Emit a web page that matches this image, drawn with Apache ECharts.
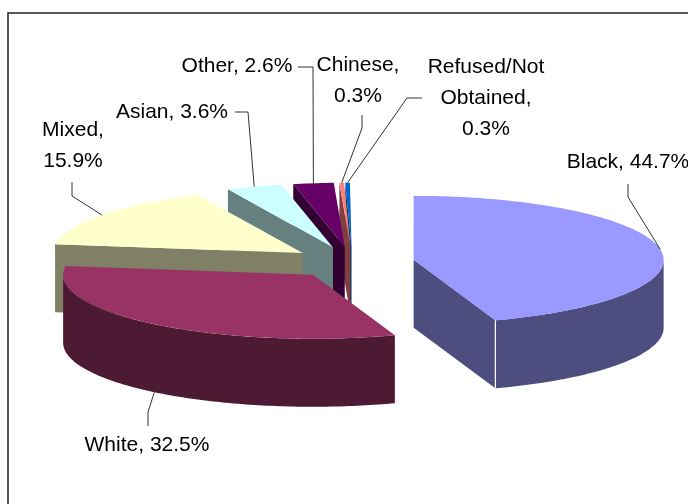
<!DOCTYPE html>
<html>
<head>
<meta charset="utf-8">
<style>html,body{margin:0;padding:0;background:#fff;overflow:hidden}#c{width:688px;height:504px}</style>
<script src="https://cdn.jsdelivr.net/npm/echarts@6/dist/echarts.min.js"></script>
</head>
<body>
<div id="c"></div>
<script>
// Data, clockwise from 12 o'clock
var categories = ['Black', 'White', 'Mixed', 'Asian', 'Other', 'Chinese', 'Refused/Not Obtained'];
var percents = [44.7, 32.5, 15.9, 3.6, 2.6, 0.3, 0.3];
var labelLines = [['Black, 44.7%'], ['White, 32.5%'], ['Mixed,', '15.9%'], ['Asian, 3.6%'], ['Other, 2.6%'], ['Chinese,', '0.3%'], ['Refused/Not', 'Obtained,', '0.3%']];

// Styling and layout
var topColors = ['#9999FF', '#993366', '#FFFFCC', '#CCFFFF', '#660066', '#FF8080', '#0066CC'];
var sideColors = ['#4D4D80', '#4D1A33', '#808066', '#668080', '#330033', '#804040', '#003366'];
var labelCentre = [[628, 162], [147, 445], [73, 146], [172, 112], [237, 66], [358, 81], [486, 98]];
var leaderElbows = [
  [[628, 184], [628, 197]], [[148, 426], [148, 412]], [[72, 182], [72, 196]],
  [[235, 112], [248, 112]], [[298, 67], [313, 67]], [[362, 115], [362, 128]], [[422, 98], [407, 98]]
];
var CX = 352.5, CY = 262.5, RX = 250, RY = 64, DEPTH = 68, EXPLODE = 62;
var FONT = '21px "Liberation Sans", Arial, sans-serif';
var rad = Math.PI / 180;

var cumulative = 0;
var rows = percents.map(function (v, i) {
  var a0 = cumulative * 3.6;
  cumulative += v;
  return [i, a0, cumulative * 3.6];
});

function centreOf(a0, a1) {
  var m = (a0 + a1) / 2 * rad;
  return [CX + EXPLODE * Math.sin(m), CY - EXPLODE * (RY / RX) * Math.cos(m)];
}
function onRim(c, a, drop) {
  return [c[0] + RX * Math.sin(a * rad), c[1] - RY * Math.cos(a * rad) + (drop || 0)];
}
function arc(c, from, to, drop) {
  var out = [], n = Math.max(2, Math.ceil(Math.abs(to - from)));
  for (var k = 0; k <= n; k++) out.push(onRim(c, from + (to - from) * k / n, drop));
  return out;
}
function poly(points, fill) {
  return { type: 'polygon', silent: true, shape: { points: points }, style: { fill: fill, stroke: null } };
}

function renderSlice(params, api) {
  var i = api.value(0), a0 = api.value(1), a1 = api.value(2);
  var c = centreOf(a0, a1), side = sideColors[i], kids = [];
  var base = [c[0], c[1] + DEPTH];
  if (Math.sin(a0 * rad) < -1e-6) {
    kids.push(poly([c, onRim(c, a0), onRim(c, a0, DEPTH), base], side));
  }
  if (Math.sin(a1 * rad) > 1e-6) {
    kids.push(poly([c, onRim(c, a1), onRim(c, a1, DEPTH), base], side));
  }
  var f = Math.max(a0, 90), t = Math.min(a1, 270);
  if (t > f) {
    kids.push(poly(arc(c, f, t, 0).concat(arc(c, t, f, DEPTH)), side));
  }
  if (Math.sin(a1 * rad) > 1e-6) {
    kids.push({ type: 'line', silent: true,
      shape: { x1: onRim(c, a1)[0], y1: onRim(c, a1)[1], x2: onRim(c, a1)[0], y2: onRim(c, a1, DEPTH)[1] },
      style: { stroke: '#fff', lineWidth: 1.2 } });
  }
  kids.push(poly([c].concat(arc(c, a0, a1, 0)), topColors[i]));
  return { type: 'group', children: kids };
}

function renderLabel(params, api) {
  var i = api.value(0), a0 = api.value(1), a1 = api.value(2);
  var c = centreOf(a0, a1), m = (a0 + a1) / 2;
  var end = onRim(c, m, (m > 90 && m < 270) && m > 180 && m < 270 ? DEPTH : 0);
  var pts = leaderElbows[i].concat([end]);
  return { type: 'group', children: [
    { type: 'polyline', silent: true, shape: { points: pts },
      style: { stroke: '#333', lineWidth: 1, fill: null } },
    { type: 'text', silent: true,
      style: { text: labelLines[i].join('\n'), x: labelCentre[i][0], y: labelCentre[i][1],
        align: 'center', verticalAlign: 'middle', font: FONT, lineHeight: 31, fill: '#000' } }
  ] };
}

var chart = echarts.init(document.getElementById('c'), null, { renderer: 'canvas' });
chart.setOption({
  animation: false,
  backgroundColor: '#fff',
  graphic: [{ type: 'rect', silent: true, z: 0,
    shape: { x: 8, y: 13, width: 800, height: 600 },
    style: { fill: null, stroke: '#222', lineWidth: 1.5 } }],
  series: [
    { type: 'custom', coordinateSystem: 'none', z: 2, clip: false, silent: true,
      renderItem: renderSlice, data: rows.slice().reverse() },
    { type: 'custom', coordinateSystem: 'none', z: 3, clip: false, silent: true,
      renderItem: renderLabel, data: rows }
  ]
});
</script>
</body>
</html>
